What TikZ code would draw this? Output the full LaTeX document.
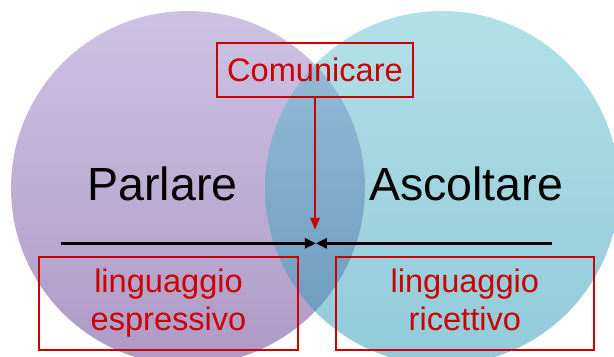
\documentclass[tikz,border=0pt]{standalone}
\usepackage{fontspec}
\setmainfont{Liberation Sans}
\usetikzlibrary{arrows.meta}
\definecolor{lilla}{RGB}{205,194,228}
\definecolor{lillascuro}{RGB}{174,154,197}
\definecolor{azzurro}{RGB}{101,193,209}
\definecolor{azzurroscuro}{RGB}{35,150,180}
\definecolor{rosso}{RGB}{204,0,0}

\begin{document}
\begin{tikzpicture}[
  riquadro/.style={draw=rosso, line width=1.7pt, inner sep=0pt, text=rosso,
    font=\fontsize{27.8}{32.2}\selectfont, align=center},
  parola/.style={font=\fontsize{39.7}{46}\selectfont, anchor=base, inner sep=0pt},
  freccia/.style={line width=3pt, -{Triangle[length=0.33cm,width=0.3cm]}}
]
\useasboundingbox (0,0) rectangle (18.42,10.68);

\shade[top color=lilla, bottom color=lillascuro] (5.64,5.04) circle [radius=5.31];
\shade[top color=azzurro, bottom color=azzurroscuro, fill opacity=0.5] (13.26,5.04) circle [radius=5.31];

\node[parola] (parlare) at (4.875,4.66) {Parlare};
\node[parola] (ascoltare) at (13.98,4.66) {Ascoltare};

\node[riquadro, minimum width=5.88cm, minimum height=1.62cm] (comunicare) at (9.45,8.59) {Comunicare};
\node[riquadro, minimum width=7.75cm, minimum height=2.8cm] (espressivo) at (5.055,1.58) {linguaggio\\espressivo};
\node[riquadro, minimum width=7.75cm, minimum height=2.8cm] (ricettivo) at (13.945,1.58) {linguaggio\\ricettivo\vphantom{p}};

\coordinate (incontro) at (9.475,3.38);
\coordinate (inizio sx) at (1.82,3.38);
\coordinate (inizio dx) at (16.55,3.38);
\coordinate (punta) at (9.45,3.78);

\draw[freccia] (inizio sx) -- (incontro);
\draw[freccia] (inizio dx) -- (incontro);
\draw[freccia, rosso, line width=2.5pt, -{Triangle[length=0.36cm,width=0.27cm]}] (comunicare.south) -- (punta);
\end{tikzpicture}
\end{document}
